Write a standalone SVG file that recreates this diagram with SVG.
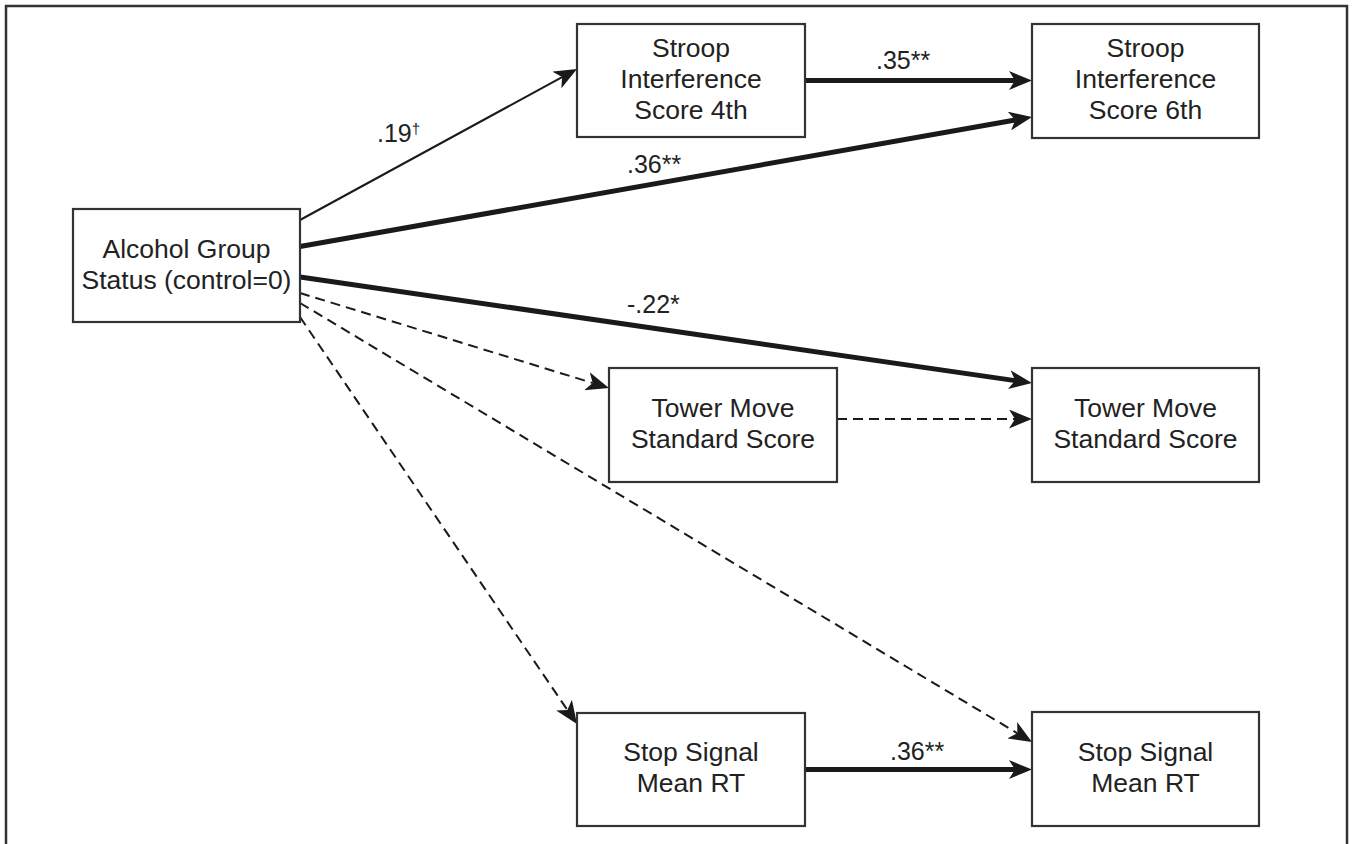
<svg xmlns="http://www.w3.org/2000/svg" width="1353" height="844" viewBox="0 0 1353 844">
<style>
.box{fill:#fff;stroke:#333;stroke-width:2.2}
.nt{font-family:"Liberation Sans",Arial,sans-serif;font-size:26.5px;fill:#222;text-anchor:middle}
.lb{font-family:"Liberation Sans",Arial,sans-serif;font-size:25px;fill:#222}
.thin{stroke:#1a1a1a;stroke-width:2;fill:none}
.thick{stroke:#1a1a1a;stroke-width:5;fill:none}
.dash{stroke:#1a1a1a;stroke-width:2;fill:none;stroke-dasharray:10 6}
</style>
<defs>
<marker id="ah" markerUnits="userSpaceOnUse" markerWidth="23" markerHeight="19" viewBox="0 0 23 19" refX="6" refY="9.5" orient="auto">
<path d="M0,0 L23,9.5 L0,19 L6,9.5 Z" fill="#1a1a1a"/>
</marker>
</defs>
<rect x="6" y="6" width="1341" height="860" fill="#fff" stroke="#333" stroke-width="2.5"/>
<g id="connectors">
<line class="thin" x1="300" y1="220" x2="562.1" y2="77.1" marker-end="url(#ah)"/>
<line class="thick" x1="805" y1="80.5" x2="1015" y2="80.5" marker-end="url(#ah)"/>
<line class="thick" x1="300" y1="246.5" x2="1015.3" y2="120" marker-end="url(#ah)"/>
<line class="thick" x1="300" y1="277" x2="1015.2" y2="380.6" marker-end="url(#ah)"/>
<line class="dash" x1="300" y1="293" x2="592.7" y2="383" marker-end="url(#ah)"/>
<line class="dash" x1="837" y1="419" x2="1015" y2="419" marker-end="url(#ah)"/>
<line class="dash" x1="300" y1="303" x2="1017.4" y2="733.3" marker-end="url(#ah)"/>
<line class="dash" x1="300" y1="317" x2="567.4" y2="710" marker-end="url(#ah)"/>
<line class="thick" x1="805" y1="769.5" x2="1015" y2="769.5" marker-end="url(#ah)"/>
<text class="lb" x="377" y="142">.19<tspan font-size="15" dy="-8">†</tspan></text>
<text class="lb" x="876" y="69">.35**</text>
<text class="lb" x="627" y="173">.36**</text>
<text class="lb" x="627" y="313">-.22*</text>
<text class="lb" x="890" y="760">.36**</text>
</g>
<g id="alcohol">
<rect class="box" x="73" y="209" width="227" height="113"/>
<text class="nt" x="186.5" y="258">Alcohol Group</text>
<text class="nt" x="186.5" y="289">Status (control=0)</text>
</g>
<g id="stroop4">
<rect class="box" x="577" y="24" width="228" height="113"/>
<text class="nt" x="691" y="57">Stroop</text>
<text class="nt" x="691" y="88">Interference</text>
<text class="nt" x="691" y="119">Score 4th</text>
</g>
<g id="stroop6">
<rect class="box" x="1032" y="24" width="227" height="114"/>
<text class="nt" x="1145.5" y="57">Stroop</text>
<text class="nt" x="1145.5" y="88">Interference</text>
<text class="nt" x="1145.5" y="119">Score 6th</text>
</g>
<g id="tower4">
<rect class="box" x="609" y="368" width="228" height="114"/>
<text class="nt" x="723" y="417">Tower Move</text>
<text class="nt" x="723" y="448">Standard Score</text>
</g>
<g id="tower6">
<rect class="box" x="1032" y="368" width="227" height="114"/>
<text class="nt" x="1145.5" y="417">Tower Move</text>
<text class="nt" x="1145.5" y="448">Standard Score</text>
</g>
<g id="stop4">
<rect class="box" x="577" y="713" width="228" height="113"/>
<text class="nt" x="691" y="761">Stop Signal</text>
<text class="nt" x="691" y="792">Mean RT</text>
</g>
<g id="stop6">
<rect class="box" x="1032" y="712" width="227" height="114"/>
<text class="nt" x="1145.5" y="761">Stop Signal</text>
<text class="nt" x="1145.5" y="792">Mean RT</text>
</g>
</svg>
